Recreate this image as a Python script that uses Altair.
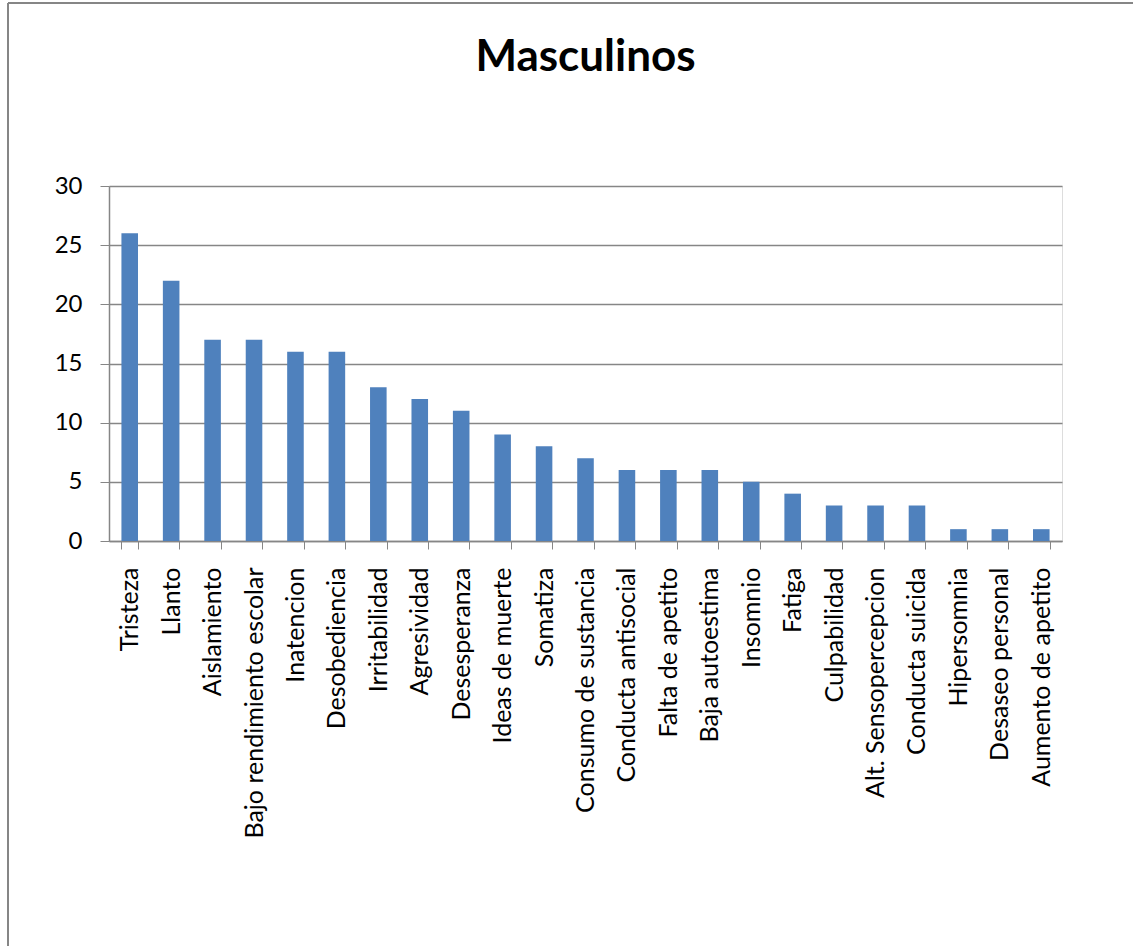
import altair as alt
import pandas as pd

# Symptom counts for the male group
sintomas = [
    "Tristeza", "Llanto", "Aislamiento", "Bajo rendimiento escolar", "Inatencion",
    "Desobediencia", "Irritabilidad", "Agresividad", "Desesperanza", "Ideas de muerte",
    "Somatiza", "Consumo de sustancia", "Conducta antisocial", "Falta de apetito",
    "Baja autoestima", "Insomnio", "Fatiga", "Culpabilidad", "Alt. Sensopercepcion",
    "Conducta suicida", "Hipersomnia", "Desaseo personal", "Aumento de apetito",
]
casos = [26, 22, 17, 17, 16, 16, 13, 12, 11, 9, 8, 7, 6, 6, 6, 5, 4, 3, 3, 3, 1, 1, 1]

df = pd.DataFrame({"sintoma": sintomas, "casos": casos})

FONT = "Lato"
GRIS = "#868686"

bars = alt.Chart(df).mark_bar(color="#4F81BD").encode(
    x=alt.X(
        "sintoma:N",
        sort=sintomas,
        title=None,
        scale=alt.Scale(paddingInner=0.6, paddingOuter=0.3),
        axis=alt.Axis(
            labelAngle=-90,
            labelAlign="right",
            labelBaseline="middle",
            labelFont=FONT,
            labelFontSize=25,
            labelColor="#000000",
            labelPadding=18,
            tickBand="extent",
            tickColor=GRIS,
            tickSize=8,
            domainColor=GRIS,
            domainWidth=1.5,
            labelLimit=400,
        ),
    ),
    y=alt.Y(
        "casos:Q",
        title=None,
        scale=alt.Scale(domain=[0, 30], nice=False),
        axis=alt.Axis(
            values=[0, 5, 10, 15, 20, 25, 30],
            labelFont=FONT,
            labelFontSize=24,
            labelColor="#000000",
            labelPadding=18,
            tickColor=GRIS,
            tickSize=9,
            domainColor=GRIS,
            domainWidth=1.5,
            grid=True,
            gridColor=GRIS,
            gridWidth=1.5,
        ),
    ),
)

# Outer frame lines (left and top edges of the chart box)
frame_left = alt.Chart(df).mark_rule(color=GRIS, strokeWidth=2).encode(
    x=alt.value(-101), y=alt.value(-183), y2=alt.value(780)
)
frame_top = alt.Chart(df).mark_rule(color=GRIS, strokeWidth=2).encode(
    x=alt.value(-101), x2=alt.value(1040), y=alt.value(-183)
)

chart = (
    alt.layer(frame_left, frame_top, bars)
    .properties(
        width=953,
        height=355,
        padding={"left": 109, "top": 186, "right": 71, "bottom": 405},
        autosize=alt.AutoSizeParams(type="none"),
        title=alt.TitleParams(
            "Masculinos",
            font=FONT,
            fontSize=44,
            fontWeight="bold",
            color="#000000",
            anchor="middle",
            offset=-78,
        ),
    )
    .configure_view(stroke=None)
    .configure(background="#ffffff")
)

chart.save("out.html", embed_options={"renderer": "svg", "actions": False})
